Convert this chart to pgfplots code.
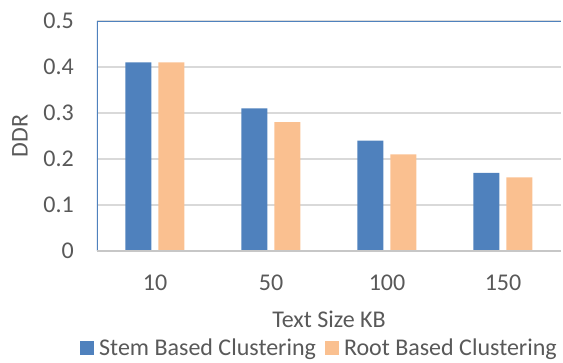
\documentclass[border=0pt]{standalone}
\usepackage{pgfplots}
\pgfplotsset{compat=1.18}
\usepackage{fontspec}
\setmainfont{Carlito}
\definecolor{sblue}{HTML}{4F81BD}
\definecolor{sorange}{HTML}{FAC090}
\definecolor{tgray}{HTML}{595959}
\definecolor{ggray}{HTML}{D9D9D9}
\newcommand{\cf}{\fontsize{24}{29}\selectfont}
\begin{document}
\begin{tikzpicture}
\path[use as bounding box] (0,0) rectangle (563pt,362pt);
\begin{axis}[
  at={(97pt,111pt)}, anchor=south west,
  width=464pt, height=230pt, scale only axis,
  ybar, bar width=26pt,
  xmin=-0.5, xmax=3.5, ymin=0, ymax=0.5,
  xtick=data, xticklabels={10,50,100,150},
  ytick={0,0.1,0.2,0.3,0.4,0.5},
  yticklabels={0,0.1,0.2,0.3,0.4,0.5},
  major tick length=0pt,
  ymajorgrids, grid style={ggray, line width=1.5pt},
  axis line style={draw=none},
  tick label style={font=\cf, text=tgray},
  yticklabel style={anchor=east, inner sep=0pt, xshift=-23pt},
  xticklabel style={anchor=north, inner sep=0pt, yshift=-24pt},
  xlabel={Text Size KB}, ylabel={DDR},
  label style={font=\cf, text=tgray},
  xlabel style={at={(axis description cs:0.5,-0.295)}, anchor=center},
  ylabel style={at={(axis description cs:-0.166,0.5)}, anchor=center, rotate=0},
  legend style={draw=none, font=\cf, text=tgray, legend columns=2,
    at={(axis description cs:0.4774,-0.42)}, anchor=center,
    inner sep=0pt,
    /tikz/every odd column/.append style={column sep=5pt},
    /tikz/every even column/.append style={column sep=9pt},
    nodes={inner sep=0pt}},
  legend image code/.code={\fill[#1] (0pt,-7pt) rectangle (14pt,7pt);},
]
\addplot[fill=sblue, draw=none, bar shift=-16.5pt] coordinates {(0,0.41) (1,0.31) (2,0.24) (3,0.17)};
\addplot[fill=sorange, draw=none, bar shift=16.5pt] coordinates {(0,0.41) (1,0.28) (2,0.21) (3,0.16)};
\legend{Stem Based Clustering, Root Based Clustering}
\draw[sblue, line width=1.5pt] (rel axis cs:0,0) -- (rel axis cs:0,1) -- (rel axis cs:1,1);
\draw[ggray!80!gray, line width=1.5pt] (rel axis cs:0,0) -- (rel axis cs:1,0);
\end{axis}
\end{tikzpicture}
\end{document}
